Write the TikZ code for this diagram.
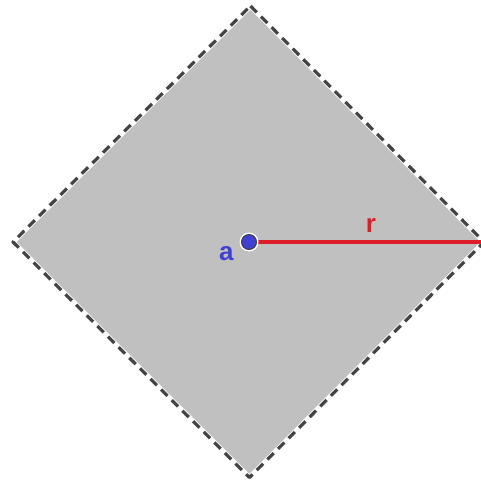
\documentclass[tikz,border=0pt]{standalone}
\usepackage{tikz}
\usepackage{fontspec}
\setsansfont{Liberation Sans}

\definecolor{rhombfill}{RGB}{192,192,192}
\definecolor{rhombedge}{RGB}{68,68,68}
\definecolor{radiusred}{RGB}{220,30,40}
\definecolor{centerblue}{RGB}{64,64,210}

\begin{document}
\begin{tikzpicture}[x=1pt, y=-1pt, line cap=round, line join=round]

  %% ==== corners of the ball (diamond) ====
  \coordinate (C) at (249,242);
  \coordinate (top) at (250.5,6.0);
  \coordinate (right) at (484.0,242.0);
  \coordinate (bottom) at (249.5,477.5);
  \coordinate (left) at (13.0,242.0);

  %% ==== fill and dashed outline ====
  \fill[rhombfill] (top) -- (right) -- (bottom) -- (left) -- cycle;
  \draw[white, line width=5.0pt] (top) -- (right) -- (bottom) -- (left) -- cycle;
  \draw[rhombedge, line width=3.2pt, line cap=butt, dash pattern=on 9pt off 6pt] (top) -- (right) -- (bottom) -- (left) -- cycle;

  %% ==== radius ====
  \draw[radiusred, line width=3.6pt, line cap=butt] (C) -- (right);

  %% ==== centre point ====
  \fill[white] (C) circle (9.5);
  \filldraw[fill=centerblue, draw=black!75, line width=1.0pt] (C) circle (7.5);

  %% ==== labels ====
  \node[anchor=center, inner sep=0pt, text=radiusred, font=\fontsize{26}{30}\selectfont] (rlabel) at (371.0,225.0) {\textsf{\textbf{r}}};
  \node[anchor=center, inner sep=0pt, text=centerblue, font=\fontsize{26}{30}\selectfont] (alabel) at (226.5,254.0) {\textsf{\textbf{a}}};

  \pgfresetboundingbox
  \path[use as bounding box] (0,0) rectangle (480,486);
\end{tikzpicture}
\end{document}
